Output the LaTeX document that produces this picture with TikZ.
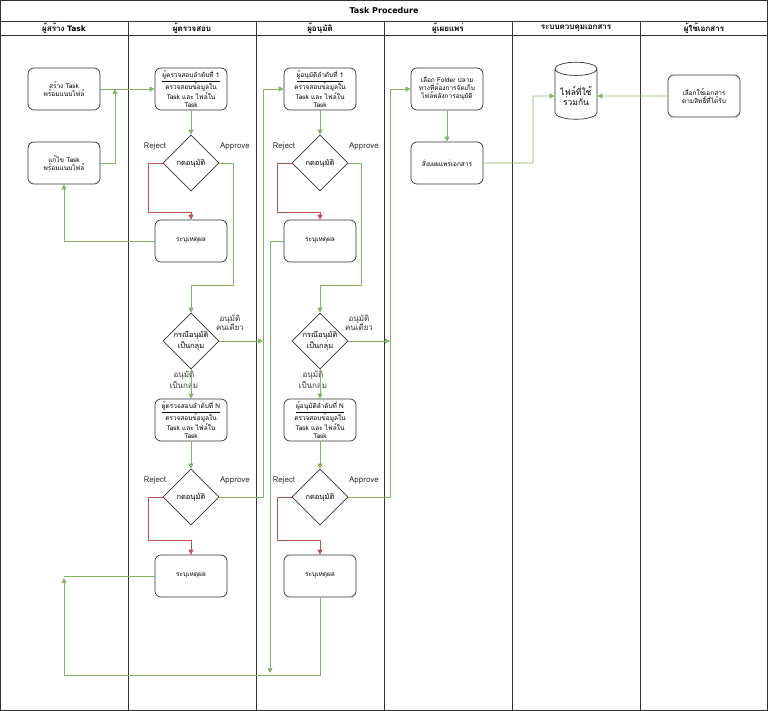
\documentclass[tikz,border=0pt]{standalone}
\usepackage{fontspec}
\setmainfont{Loma.otf}[BoldFont=Loma-Bold.otf]
\newfontfamily\titlefont{DejaVu Sans}
\usetikzlibrary{shapes.geometric,arrows.meta}
\definecolor{gr}{HTML}{82B366}
\definecolor{rd}{HTML}{B85450}
\definecolor{ln}{HTML}{333333}
\begin{document}
\begin{tikzpicture}[x=1pt,y=-1pt,
 box/.style={draw=ln,rounded corners=6pt,minimum width=72pt,minimum height=42pt,align=center,font=\fontsize{6.5}{8}\selectfont,inner sep=1pt,line width=0.7pt},
 dia/.style={draw=ln,diamond,minimum width=56pt,minimum height=56pt,inner sep=0pt,align=center,font=\fontsize{7.5}{9}\selectfont,line width=0.7pt},
 g/.style={draw=gr,line width=0.7pt},
 ga/.style={g,-{Triangle[length=5pt,width=5pt]}},
 ra/.style={draw=rd,line width=0.7pt,-{Triangle[length=5pt,width=5pt]}},
 lbl/.style={font=\fontsize{8}{9}\selectfont,align=center,text=ln},
 hd/.style={font=\bfseries\fontsize{8}{9}\selectfont}]
\useasboundingbox (0,0) rectangle (768,711);
\draw[ln,line width=0.9pt] (0.5,0.5) rectangle (767.5,710.5);
\draw[ln,line width=0.8pt] (0,21) -- (768,21) (0,35) -- (768,35);
\foreach \x in {128,256,384,512,640} \draw[ln,line width=0.9pt] (\x,21) -- (\x,711);
\node[font=\titlefont\bfseries\fontsize{8}{9}\selectfont] (title) at (384,11) {Task Procedure};
\node[hd] (h1) at (64,28) {ผู้สร้าง {\titlefont\bfseries\fontsize{7.5}{9}\selectfont Task}};
\node[hd] (h2) at (192,28) {ผู้ตรวจสอบ};
\node[hd] (h3) at (320,28) {ผู้อนุมัติ};
\node[hd] (h4) at (448,28) {ผู้เผยแพร่};
\node[hd] (h5) at (576,28) {ระบบควบคุมเอกสาร};
\node[hd] (h6) at (704,28) {ผู้ใช้เอกสาร};
% creator
\node[box] (create) at (64,89) {สร้าง Task\\พร้อมแนบไฟล์};
\node[box] (edit) at (64,163) {แก้ไข Task\\พร้อมแนบไฟล์};
% reviewer
\node[box] (rev1) at (191,89) {\underline{ผู้ตรวจสอบลำดับที่ 1}\\ตรวจสอบข้อมูลใน\\Task และ ไฟล์ใน\\Task};
\node[dia] (d1) at (191,163) {กดอนุมัติ};
\node[box] (rs1) at (191,241) {ระบุเหตุผล};
\node[dia] (d2) at (191,341) {กรณีอนุมัติ\\เป็นกลุ่ม};
\node[box] (revN) at (191,420) {\underline{ผู้ตรวจสอบลำดับที่ N}\\ตรวจสอบข้อมูลใน\\Task และ ไฟล์ใน\\Task};
\node[dia] (d3) at (191,497) {กดอนุมัติ};
\node[box] (rs3) at (191,576) {ระบุเหตุผล};
% approver
\node[box] (app1) at (320,89) {\underline{ผู้อนุมัติลำดับที่ 1}\\ตรวจสอบข้อมูลใน\\Task และ ไฟล์ใน\\Task};
\node[dia] (e1) at (320,163) {กดอนุมัติ};
\node[box] (as1) at (320,241) {ระบุเหตุผล};
\node[dia] (e2) at (320,341) {กรณีอนุมัติ\\เป็นกลุ่ม};
\node[box] (appN) at (320,420) {\underline{ผู้อนุมัติลำดับที่ N}\\ตรวจสอบข้อมูลใน\\Task และ ไฟล์ใน\\Task};
\node[dia] (e3) at (320,497) {กดอนุมัติ};
\node[box] (as3) at (320,576) {ระบุเหตุผล};
% publisher
\node[box] (folder) at (447,89) {เลือก Folder ปลาย\\ทางที่ต้องการจัดเก็บ\\ไฟล์หลังการอนุมัติ};
\node[box] (pub) at (447,163) {สั่งเผยแพร่เอกสาร};
\node[draw=ln,cylinder,shape border rotate=90,aspect=0.35,minimum width=42pt,minimum height=57pt,line width=0.7pt,align=center,font=\fontsize{8.5}{10}\selectfont] (db) at (576,96) {ไฟล์ที่ใช้\\ร่วมกัน};
\node[box] (user) at (704,96) {เลือกใช้เอกสาร\\ตามสิทธิ์ที่ได้รับ};
% labels
\foreach \c in {191,320}{
 \node[lbl] at (\c-36,146) {Reject}; \node[lbl] at (\c+44,146) {Approve};
 \node[lbl] at (\c-36,480) {Reject}; \node[lbl] at (\c+44,480) {Approve};
 \node[lbl] at (\c+39,323) {อนุมัติ\\คนเดียว};
 \node[lbl] at (\c-7,381) {อนุมัติ\\เป็นกลุ่ม};
}
% coords
\coordinate (j1) at (115,89);
\coordinate (j2) at (263,341);
\coordinate (j3) at (390,341);
\coordinate (j4) at (64,578);
\coordinate (j5) at (270,673);
% edges
\draw[ga] (create) -- (rev1);
\draw[ga] (edit.east) -| (j1);
\draw[ga] (rev1) -- (d1);
\draw[ra] (d1.west) -| (148,212) -| (rs1.north);
\draw[ga] (d1.east) -| (233,285) -| (d2.north);
\draw[ga] (rs1.west) -| (edit.south);
\draw[ga] (d2) -- (revN);
\draw[ga] (d2.east) -- (j2);
\draw[ga] (revN) -- (d3);
\draw[ra] (d3.west) -| (148,540) -| (rs3.north);
\draw[ga] (d3.east) -| (263,89) -- (app1.west);
\draw[g] (rs3.west) -- (64,576);
\draw[ga] (app1) -- (e1);
\draw[ra] (e1.west) -| (277,212) -| (as1.north);
\draw[ga] (e1.east) -| (361,285) -| (e2.north);
\draw[ga] (as1.west) -| (j5);
\draw[ga] (e2) -- (appN);
\draw[ga] (e2.east) -- (j3);
\draw[ga] (appN) -- (e3);
\draw[ra] (e3.west) -| (277,540) -| (as3.north);
\draw[ga] (e3.east) -| (390,89) -- (folder.west);
\draw[ga] (as3.south) |- (64,675) -- (j4);
\draw[ga] (folder) -- (pub);
\draw[ga] (pub.east) -| (533,96) -- (db.west);
\draw[ga] (user.west) -- (db.east);
\end{tikzpicture}
\end{document}
